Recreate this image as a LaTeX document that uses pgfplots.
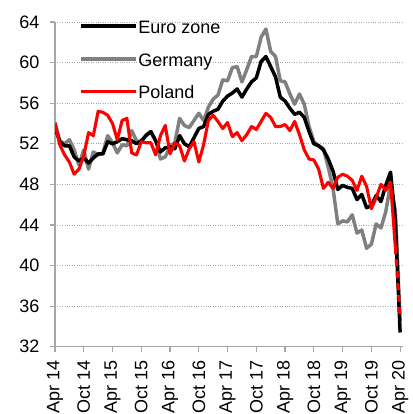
\documentclass[border=0pt]{standalone}
\usepackage{fontspec}
\setmainfont{Liberation Sans}
\usepackage{pgfplots}
\pgfplotsset{compat=1.18}
\definecolor{axgray}{RGB}{166,166,166}
\definecolor{dgray}{RGB}{128,128,128}
\definecolor{pred}{RGB}{255,0,0}
\pgfplotstableread{
m ez de
0 53.6 54.1
1 52.2 52.3
2 51.8 52.0
3 51.8 52.4
4 50.7 51.4
5 50.3 49.9
6 50.6 51.4
7 50.1 49.5
8 50.6 51.2
9 51.0 50.9
10 51.0 51.1
11 52.2 52.8
12 52.0 52.1
13 52.2 51.1
14 52.5 51.9
15 52.4 51.8
16 52.3 53.3
17 52.0 52.3
18 52.3 52.1
19 52.8 52.9
20 53.2 53.2
21 52.3 52.3
22 51.2 50.5
23 51.6 50.7
24 51.7 51.8
25 51.5 52.1
26 52.8 54.5
27 52.0 53.8
28 51.7 53.6
29 52.6 54.3
30 53.5 55.0
31 53.7 54.3
32 54.9 55.6
33 55.2 56.4
34 55.4 56.8
35 56.2 58.3
36 56.7 58.2
37 57.0 59.5
38 57.4 59.6
39 56.6 58.1
40 57.4 59.3
41 58.1 60.6
42 58.5 60.6
43 60.1 62.5
44 60.6 63.3
45 59.6 61.1
46 58.6 60.6
47 56.6 58.2
48 56.2 58.1
49 55.5 56.9
50 54.9 55.9
51 55.1 56.9
52 54.6 55.9
53 53.2 53.7
54 52.0 52.2
55 51.8 51.8
56 51.4 51.5
57 50.5 49.7
58 49.3 47.6
59 47.5 44.1
60 47.9 44.4
61 47.7 44.3
62 47.6 45.0
63 46.5 43.2
64 47.0 43.5
65 45.7 41.7
66 45.9 42.1
67 46.9 44.1
68 46.3 43.7
69 47.9 45.3
70 49.2 48.0
71 44.5 45.4
72 33.4 34.5
}\maintable
\pgfplotstableread{
m pl
0 54.0
1 51.9
2 50.9
3 50.2
4 49.0
5 49.5
6 50.8
7 53.1
8 52.8
9 55.2
10 55.1
11 54.8
12 54.0
13 52.4
14 54.3
15 54.5
16 51.1
17 50.9
18 52.2
19 52.1
20 52.1
21 50.9
22 52.8
23 53.8
24 51.0
25 52.1
26 51.8
27 50.3
28 51.5
29 52.2
30 50.2
31 51.9
32 54.3
33 54.8
34 54.2
35 53.5
36 54.1
37 52.7
38 53.1
39 52.3
40 52.9
41 53.7
42 53.4
43 54.2
44 55.0
45 54.6
46 53.7
47 53.7
48 53.9
49 53.3
50 54.2
51 52.9
52 51.4
53 50.5
54 50.4
55 49.5
56 47.6
57 48.2
58 47.6
59 48.7
60 49.0
61 48.8
62 48.4
63 47.4
64 48.8
65 47.8
66 45.6
67 46.7
68 48.0
69 47.4
70 48.2
71 41.8
}\pltable
\pgfplotstableread{
m pl
71 41.8
72 35.0
}\plfcst
\begin{document}
\begin{tikzpicture}
\begin{axis}[
  scale only axis, width=348bp, height=324.7bp,
  xmin=0, xmax=72.6, ymin=32, ymax=64,
  axis lines*=left,
  axis line style={draw=axgray, line width=1.2bp},
  ytick={32,36,...,64},
  xtick={0,6,...,72},
  xticklabels={Apr 14,Oct 14,Apr 15,Oct 15,Apr 16,Oct 16,Apr 17,Oct 17,Apr 18,Oct 18,Apr 19,Oct 19,Apr 20},
  tick align=outside, major tick length=5bp,
  tick style={draw=axgray, line width=1.2bp},
  ymajorgrids, grid style={dotted, draw=axgray, line width=0.8bp},
  tick label style={font=\fontsize{18bp}{21bp}\selectfont, text=black},
  /pgf/number format/assume math mode=true,
  xticklabel style={rotate=90, anchor=east},
  xticklabel shift=5bp,
  yticklabel shift=7bp,
  legend style={at={(rel axis cs:0.0698,1.0056)}, anchor=north west, draw=none, fill=none,
    inner sep=0pt, font=\fontsize{18bp}{21bp}\selectfont, row sep=15.3bp, column sep=0bp,
    nodes={inner sep=0pt, text height=13bp, text depth=4.5bp},
    /tikz/every odd column/.style={column sep=0bp}},
  legend cell align=left,
  legend image code/.code={\draw[#1] (0bp,3bp) -- (55bp,3bp);},
  line join=round,
]
\addlegendimage{black, line width=3.8bp}
\addlegendimage{dgray, line width=3.8bp}
\addlegendimage{pred, line width=3.4bp}
\addplot[dgray, line width=3.5bp, forget plot] table[x=m, y=de] {\maintable};
\addplot[black, line width=3.5bp, forget plot] table[x=m, y=ez] {\maintable};
\addplot[pred, line width=3.1bp, forget plot] table[x=m, y=pl] {\pltable};
\addplot[pred, line width=3.1bp, dash pattern=on 7bp off 5bp, forget plot] table[x=m, y=pl] {\plfcst};
\legend{Euro zone, Germany, Poland}
\end{axis}
\pgfresetboundingbox
\path[use as bounding box] (-55bp,-67.3bp) rectangle (358bp,346.7bp);
\end{tikzpicture}
\end{document}
